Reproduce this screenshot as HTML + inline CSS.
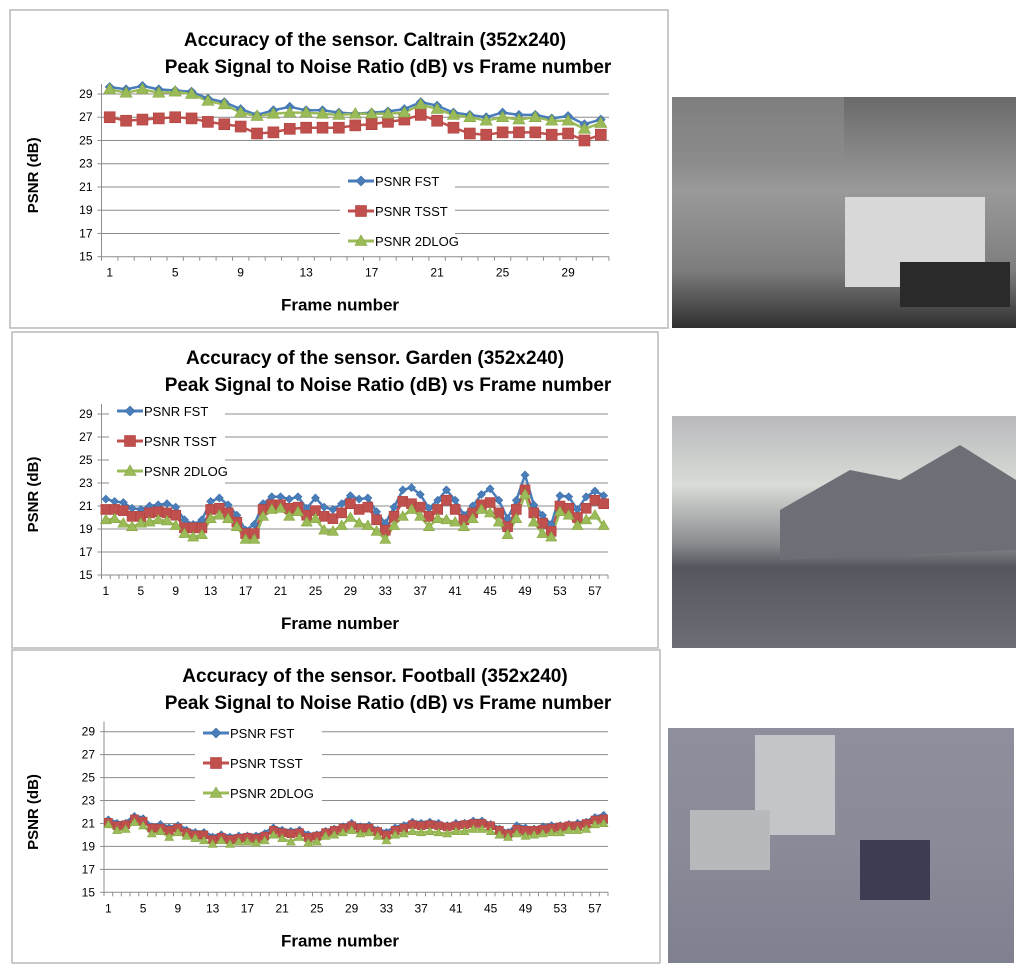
<!DOCTYPE html>
<html><head><meta charset="utf-8">
<style>
html,body{margin:0;padding:0;background:#fff;}
body{width:1024px;height:974px;overflow:hidden;position:relative;font-family:"Liberation Sans",sans-serif;}
svg{position:absolute;left:0;top:0;}
</style></head>
<body>
<svg id="chart" width="1024" height="974" viewBox="0 0 1024 974">
<defs>
<linearGradient id="gCal" x1="0" y1="0" x2="0" y2="1">
<stop offset="0" stop-color="#6a6a6a"/><stop offset="0.4" stop-color="#9a9a9a"/><stop offset="0.75" stop-color="#7d7d7d"/><stop offset="1" stop-color="#2f2f2f"/></linearGradient>
<linearGradient id="gGar" x1="0" y1="0" x2="0" y2="1">
<stop offset="0" stop-color="#b9b9bd"/><stop offset="0.3" stop-color="#d8dcd6"/><stop offset="0.55" stop-color="#8a8c90"/><stop offset="0.65" stop-color="#55575f"/><stop offset="1" stop-color="#6d6e75"/></linearGradient>
<linearGradient id="gFoot" x1="0" y1="0" x2="0" y2="1">
<stop offset="0" stop-color="#8e8f9c"/><stop offset="0.5" stop-color="#8a8b98"/><stop offset="1" stop-color="#7f8090"/></linearGradient>
</defs>
<g id="photos">
<rect x="672" y="97" width="344" height="231" fill="url(#gCal)"/>
<rect x="845" y="197" width="140" height="90" fill="#d8d8d8"/>
<rect x="672" y="97" width="172" height="70" fill="#8c8c8c" opacity="0.6"/>
<rect x="900" y="262" width="110" height="45" fill="#2a2a2a"/>
<rect x="672" y="416" width="344" height="232" fill="url(#gGar)"/>
<polygon points="780,510 850,470 900,480 960,445 1016,480 1016,550 780,560" fill="#6e6f76"/>
<rect x="668" y="728" width="346" height="235" fill="url(#gFoot)"/>
<rect x="755" y="735" width="80" height="100" fill="#c4c5c8"/>
<rect x="860" y="840" width="70" height="60" fill="#3c3d52"/>
<rect x="690" y="810" width="80" height="60" fill="#b8b9bd"/>
</g>
<g id="panels"></g>
</svg>
<script>
// ---------- Data ----------
const seriesNames = ["PSNR FST","PSNR TSST","PSNR 2DLOG"];
const yTicks = [15,17,19,21,23,25,27,29];

const caltrainFST  = [29.6,29.4,29.7,29.4,29.3,29.2,28.6,28.3,27.7,27.2,27.6,27.9,27.6,27.6,27.4,27.3,27.4,27.5,27.7,28.3,28.0,27.4,27.2,27.0,27.4,27.2,27.2,26.9,27.1,26.4,26.8];
const caltrainTSST = [27.0,26.7,26.8,26.9,27.0,26.9,26.6,26.4,26.2,25.6,25.7,26.0,26.1,26.1,26.1,26.3,26.4,26.6,26.8,27.2,26.7,26.1,25.6,25.5,25.7,25.7,25.7,25.5,25.6,25.0,25.5];
const caltrain2DLOG= [29.4,29.1,29.4,29.1,29.2,29.0,28.4,28.1,27.4,27.1,27.3,27.4,27.4,27.3,27.2,27.3,27.3,27.3,27.4,28.1,27.7,27.2,27.0,26.7,27.0,26.8,27.0,26.7,26.7,26.0,26.5];

const gardenFST  = [21.6,21.4,21.3,20.8,20.7,21.0,21.1,21.2,20.9,19.8,19.4,19.8,21.4,21.7,21.1,20.2,18.9,19.4,21.2,21.8,21.8,21.6,21.8,20.8,21.7,20.9,20.7,21.2,21.9,21.6,21.7,20.5,19.5,20.9,22.4,22.6,22.0,20.8,21.5,22.4,21.5,20.2,21.0,22.0,22.5,21.5,19.9,21.5,23.7,21.1,20.2,19.4,21.9,21.8,20.7,21.8,22.3,21.9];
const gardenTSST = [20.7,20.7,20.6,20.1,20.1,20.4,20.5,20.4,20.2,19.1,19.1,19.1,20.7,20.8,20.4,19.6,18.6,18.6,20.7,21.1,21.1,20.8,20.9,20.2,20.6,20.1,19.9,20.4,21.2,20.7,20.9,19.8,18.9,20.1,21.4,21.2,20.9,20.1,20.7,21.5,20.7,19.8,20.4,21.1,21.3,20.4,19.2,20.7,22.4,20.4,19.5,18.8,21.0,20.8,20.0,20.8,21.5,21.2];
const garden2DLOG= [19.8,19.9,19.5,19.2,19.5,19.6,19.8,19.7,19.3,18.6,18.3,18.5,19.9,20.2,19.9,19.2,18.1,18.1,20.1,20.7,20.8,20.1,20.5,19.6,19.9,18.9,18.8,19.3,20.0,19.5,19.3,18.8,18.1,19.3,20.1,20.7,20.1,19.2,19.9,19.8,19.6,19.2,19.9,20.7,20.4,19.6,18.5,19.9,22.0,19.6,18.6,18.3,20.5,20.2,19.3,19.8,20.2,19.3];

const footballFST  = [21.4,21.1,21.1,21.7,21.5,20.8,21.0,20.7,20.9,20.5,20.3,20.3,19.9,20.1,19.9,20.0,20.0,20.0,20.2,20.7,20.5,20.4,20.5,20.1,20.1,20.4,20.6,20.8,21.1,20.8,20.9,20.5,20.3,20.7,20.9,21.2,21.1,21.2,21.1,20.9,21.1,21.1,21.3,21.3,21.0,20.6,20.3,20.9,20.7,20.6,20.8,20.9,20.9,21.0,21.1,21.2,21.6,21.8];
const footballTSST = [21.1,20.8,20.9,21.4,21.2,20.6,20.6,20.4,20.6,20.2,20.0,20.0,19.6,19.8,19.6,19.7,19.8,19.7,19.9,20.4,20.2,20.1,20.2,19.8,19.9,20.2,20.4,20.6,20.8,20.6,20.6,20.3,20.0,20.4,20.6,20.9,20.8,20.9,20.8,20.7,20.8,20.9,21.0,21.0,20.8,20.4,20.1,20.5,20.4,20.4,20.5,20.6,20.7,20.8,20.8,21.0,21.3,21.4];
const football2DLOG= [20.9,20.4,20.5,21.1,20.8,20.1,20.3,19.8,20.2,19.9,19.7,19.5,19.2,19.5,19.2,19.4,19.4,19.3,19.5,20.0,19.7,19.4,19.8,19.3,19.4,19.9,20.0,20.2,20.4,20.1,20.2,19.9,19.5,20.0,20.1,20.3,20.2,20.3,20.2,20.1,20.3,20.3,20.5,20.5,20.3,20.0,19.8,20.1,19.9,20.0,20.1,20.2,20.2,20.4,20.4,20.5,20.9,21.0];

// ---------- Drawing ----------
const NS = "http://www.w3.org/2000/svg";
const root = document.getElementById("panels");
const COLORS = ["#4a7ebb","#c0504d","#9bbb59"];
const EDGES = ["#3b6ea5","#b0403c","#84a53f"];

function mk(tag, attrs, parent){
  const e = document.createElementNS(NS, tag);
  for (const k in attrs) e.setAttribute(k, attrs[k]);
  (parent||root).appendChild(e);
  return e;
}
function txt(x,y,s,size,weight,anchor,parent){
  const t = mk("text",{x:x,y:y,"font-size":size,"font-weight":weight,"text-anchor":anchor,fill:"#000","font-family":"Liberation Sans, sans-serif"},parent);
  t.textContent = s;
  return t;
}
function marker(g, kind, x, y, s){
  let m;
  if (kind===0) m = mk("polygon",{points:`${x},${y-s} ${x+s},${y} ${x},${y+s} ${x-s},${y}`,fill:COLORS[0],stroke:EDGES[0],"stroke-width":0.6},g);
  else if (kind===1) m = mk("rect",{x:x-s,y:y-s,width:2*s,height:2*s,fill:COLORS[1],stroke:EDGES[1],"stroke-width":0.6},g);
  else m = mk("polygon",{points:`${x},${y-s*1.1} ${x+s*1.1},${y+s*0.8} ${x-s*1.1},${y+s*0.8}`,fill:COLORS[2],stroke:EDGES[2],"stroke-width":0.6},g);
  return m;
}

function drawChart(cfg, data){
  const g = mk("g",{});
  
  
  const box = mk("rect",{x:cfg.box[0],y:cfg.box[1],width:cfg.box[2],height:cfg.box[3],fill:"#fff",stroke:"#b8b8b8","stroke-width":1.5},g);
  
  
  const t1 = txt(cfg.titleX, cfg.titleY, cfg.title1, 19, "bold", "middle", g);
  
  
  const t2 = txt(388, cfg.titleY+27, "Peak Signal to Noise Ratio (dB) vs Frame number", 19, "bold", "middle", g);
  
  

  const n = data[0].length;
  const x0 = cfg.x0, x1 = cfg.x1, bw = (x1-x0)/n;
  const yOf = v => cfg.yBot - (v-15)*(cfg.yBot-cfg.yTop)/14;
  const xOf = i => x0 + bw*(i+0.5);

  yTicks.forEach(v=>{
    const y = yOf(v);
    if (v>15){
      const gl = mk("line",{x1:x0,y1:y,x2:x1,y2:y,stroke:"#8c8c8c","stroke-width":1},g);
      
      
    }
    mk("line",{x1:x0-4,y1:y,x2:x0,y2:y,stroke:"#8c8c8c"},g);
    const tl = txt(x0-9, y+4, String(v), 12, "normal", "end", g);
    
    
  });
  mk("line",{x1:x0,y1:cfg.yTop-10,x2:x0,y2:cfg.yBot,stroke:"#8c8c8c"},g);
  mk("line",{x1:x0,y1:cfg.yBot,x2:x1,y2:cfg.yBot,stroke:"#8c8c8c"},g);
  for (let i=0;i<=n;i++){
    mk("line",{x1:x0+bw*i,y1:cfg.yBot,x2:x0+bw*i,y2:cfg.yBot+4,stroke:"#8c8c8c"},g);
  }
  for (let i=0;i<n;i+=4){
    const xl = txt(xOf(i), cfg.yBot+20, String(i+1), 12, "normal", "middle", g);
    
    
  }
  const xt = txt(340, cfg.yBot+54, "Frame number", 17, "bold", "middle", g);
  
  
  const yt = txt(0,0,"PSNR (dB)",15,"bold","middle",g);
  yt.setAttribute("transform",`translate(38,${(cfg.yTop+cfg.yBot)/2}) rotate(-90)`);
  
  

  const lg = mk("g",{},g);
  
  
  mk("rect",{x:cfg.legX-8,y:cfg.legY-14,width:cfg.legW,height:cfg.legGap*2+28,fill:"#fff"},lg);

  data.forEach((arr,k)=>{
    const pts = arr.map((v,i)=>xOf(i).toFixed(1)+","+yOf(v).toFixed(1)).join(" ");
    const pl = mk("polyline",{points:pts,fill:"none",stroke:COLORS[k],"stroke-width":cfg.lw,"stroke-linejoin":"round"},g);
    
    
  });
  data.forEach((arr,k)=>{
    const mg = mk("g",{},g);
    
    
    arr.forEach((v,i)=>{
      const m = marker(mg,k,xOf(i),yOf(v),cfg.ms[k]);
      
      
    });
  });
  seriesNames.forEach((s,k)=>{
    const y = cfg.legY + k*cfg.legGap;
    const eg = mk("g",{},lg);
    
    
    mk("line",{x1:cfg.legX,y1:y,x2:cfg.legX+26,y2:y,stroke:COLORS[k],"stroke-width":3},eg);
    marker(eg,k,cfg.legX+13,y,[5,5.5,5.5][k]);
    txt(cfg.legX+27, y+5, s, 13, "normal", "start", eg);
  });
  g.appendChild(lg);
}

drawChart({name:"caltrain-chart",box:[10,10,658,318],title1:"Accuracy of the sensor.  Caltrain (352x240)",titleX:375,titleY:46,
  x0:101.5,x1:609,yTop:94,yBot:256.7,lw:2.5,ms:[4.5,5.5,5.5],legX:348,legY:181,legGap:30,legW:115},
  [caltrainFST,caltrainTSST,caltrain2DLOG]);
drawChart({name:"garden-chart",box:[12,332,646,316],title1:"Accuracy of the sensor.  Garden (352x240)",titleX:375,titleY:364,
  x0:101.5,x1:608,yTop:414,yBot:575,lw:2.5,ms:[4,5,5],legX:117,legY:411,legGap:30,legW:116},
  [gardenFST,gardenTSST,garden2DLOG]);
drawChart({name:"football-chart",box:[12,650,648,313],title1:"Accuracy of the sensor.  Football (352x240)",titleX:375,titleY:682,
  x0:104,x1:608,yTop:731.7,yBot:892.3,lw:2.5,ms:[3,4,4],legX:203,legY:733,legGap:30,legW:127},
  [footballFST,footballTSST,football2DLOG]);
</script>
</body></html>
